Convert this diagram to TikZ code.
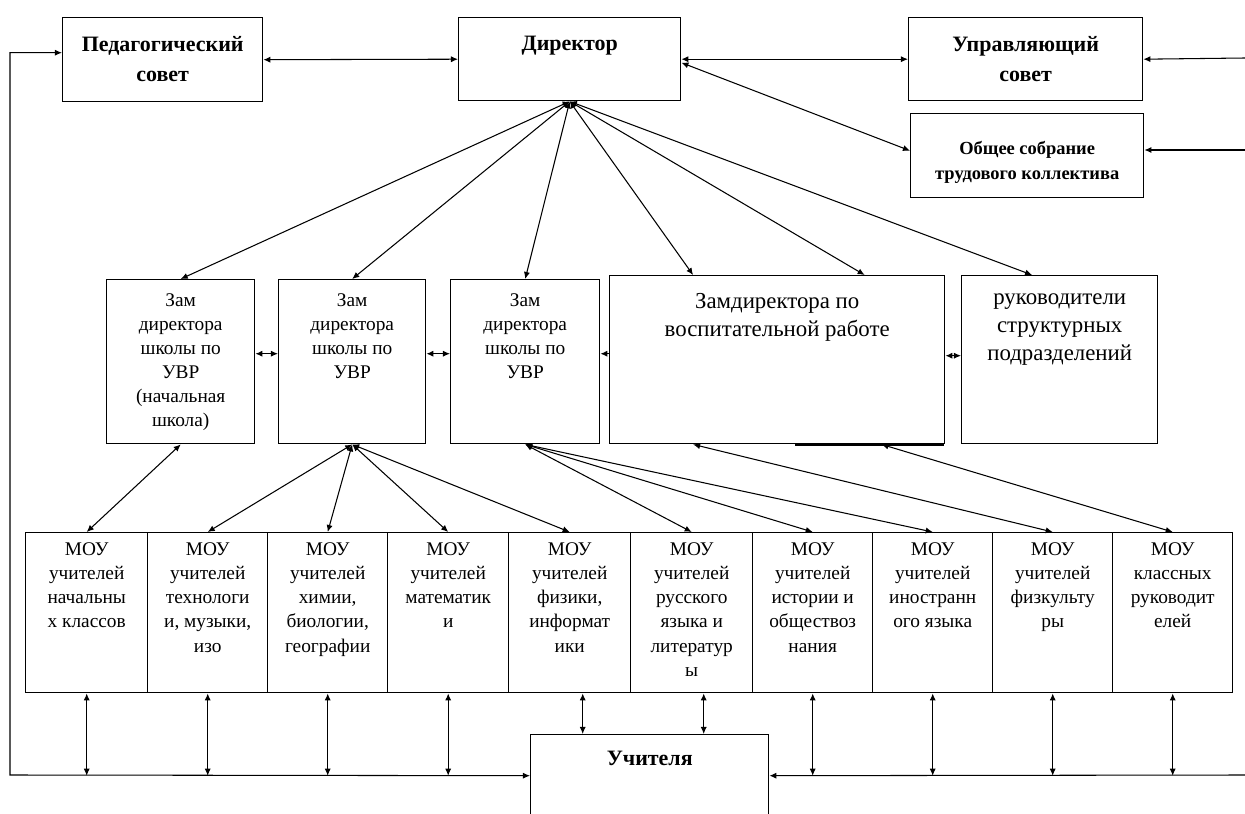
\documentclass[tikz,border=0pt]{standalone}
\usepackage{fontspec}
\setmainfont{Liberation Serif}
\usetikzlibrary{calc,arrows.meta}

\tikzset{
  box/.style 2 args={draw,line width=.8pt,anchor=north west,inner sep=0pt,
    minimum width=#1*0.02cm,minimum height=#2*0.02cm},
  headtxt/.style={anchor=north,inner sep=0pt,align=center,yshift=-19*0.02cm,
    font=\fontsize{12.5}{17}\selectfont\bfseries},
  smalltxt/.style={anchor=north,inner sep=0pt,align=center,yshift=-28*0.02cm,
    font=\fontsize{10.5}{14.2}\selectfont\bfseries},
  zamtxt/.style={anchor=north,inner sep=0pt,align=center,yshift=-14*0.02cm,
    font=\fontsize{11}{13.7}\selectfont},
  bigtxt/.style={anchor=north,inner sep=0pt,align=center,yshift=-18*0.02cm,
    font=\fontsize{13}{16}\selectfont},
  moutxt/.style={anchor=north,inner sep=0pt,align=center,yshift=-10*0.02cm,
    font=\fontsize{11}{13.8}\selectfont},
  link/.style={<->,line width=.6pt},
}

\begin{document}
\begin{tikzpicture}[x=0.02cm,y=-0.02cm,>={Latex[length=4pt,width=3.5pt]}]
  \useasboundingbox (0,0) rectangle (1245,814);

  % top level
  \node[box={200}{84},label={[headtxt]north:Педагогический\\совет}] (ped) at (62,17) {};
  \node[box={222}{83},label={[headtxt]north:Директор}] (dir) at (458,17) {};
  \node[box={234}{83},label={[headtxt]north:Управляющий\\совет}] (upr) at (908,17) {};
  \node[box={233}{84},label={[smalltxt]north:Общее собрание\\трудового коллектива}] (obs) at (910,113) {};

  % deputies
  \node[box={148}{164},label={[zamtxt]north:Зам\\директора\\школы по\\УВР\\(начальная\\школа)}] (zam1) at (106,279) {};
  \node[box={147}{164},label={[zamtxt]north:Зам\\директора\\школы по\\УВР}] (zam2) at (278,279) {};
  \node[box={149}{164},label={[zamtxt]north:Зам\\директора\\школы по\\УВР}] (zam3) at (450,279) {};
  \node[box={335}{168},label={[bigtxt]north:Замдиректора по\\воспитательной работе}] (vr) at (609,275) {};
  \node[box={196}{168},label={[bigtxt]north:руководители\\структурных\\подразделений}] (ruk) at (961,275) {};
  \draw[line width=.6pt] (795,445) -- (944,445);

  % methodical unions
  \node[box={122}{160},label={[moutxt]north:{МОУ\\учителей\\начальны\\х классов}}] (mou1) at (25,532) {};
  \node[box={120}{160},label={[moutxt]north:{МОУ\\учителей\\технологи\\и, музыки,\\изо}}] (mou2) at (147,532) {};
  \node[box={120}{160},label={[moutxt]north:{МОУ\\учителей\\химии,\\биологии,\\географии}}] (mou3) at (267,532) {};
  \node[box={121}{160},label={[moutxt]north:{МОУ\\учителей\\математик\\и}}] (mou4) at (387,532) {};
  \node[box={122}{160},label={[moutxt]north:{МОУ\\учителей\\физики,\\информат\\ики}}] (mou5) at (508,532) {};
  \node[box={122}{160},label={[moutxt]north:{МОУ\\учителей\\русского\\языка и\\литератур\\ы}}] (mou6) at (630,532) {};
  \node[box={120}{160},label={[moutxt]north:{МОУ\\учителей\\истории и\\обществоз\\нания}}] (mou7) at (752,532) {};
  \node[box={120}{160},label={[moutxt]north:{МОУ\\учителей\\иностранн\\ого языка}}] (mou8) at (872,532) {};
  \node[box={120}{160},label={[moutxt]north:{МОУ\\учителей\\физкульту\\ры}}] (mou9) at (992,532) {};
  \node[box={120}{160},label={[moutxt]north:{МОУ\\классных\\руководит\\елей}}] (mou10) at (1112,532) {};

  \node[box={238}{82},label={[headtxt,yshift=2*0.02cm]north:Учителя}] (uch) at (530,734) {};

  \coordinate (rtop) at (1245,58);
  \coordinate (rmid) at (1245,150);
  \coordinate (rbot) at (1245,775);
  \coordinate (lcorner) at (10,775);

  % top links
  \draw[link] (ped.east) -- (dir.west);
  \draw[link] (dir.east) -- (upr.west);
  \draw[link] ([yshift=-.07cm]dir.east) -- ([yshift=.1cm]obs.west);
  \draw[->,line width=.6pt] (rtop) -- (upr.east);
  \draw[->,line width=.6pt] (rmid) -- (rmid -| obs.east);

  % director to deputies
  \draw[link] (dir.south) -- (zam1.north);
  \draw[link] (dir.south) -- (zam2.north);
  \draw[link] (dir.south) -- (zam3.north);
  \draw[link] (dir.south) -- ($(vr.north west)!.25!(vr.north east)$);
  \draw[link] (dir.south) -- ($(vr.north west)!.76!(vr.north east)$);
  \draw[link] (dir.south) -- ($(ruk.north west)!.36!(ruk.north east)$);

  % between deputies
  \draw[link] ([yshift=.16cm]zam1.east) -- ([yshift=.16cm]zam1.east -| zam2.west);
  \draw[link] ([yshift=.16cm]zam2.east) -- ([yshift=.16cm]zam2.east -| zam3.west);
  \draw[<-,line width=.6pt] ([yshift=.16cm]zam3.east) -- ([yshift=.16cm]zam3.east -| vr.west);
  \draw[link] ([yshift=.08cm]vr.east) -- ([yshift=.08cm]vr.east -| ruk.west);

  % deputies to unions
  \draw[link] (zam1.south) -- (mou1.north);
  \draw[link] (zam2.south) -- (mou2.north);
  \draw[link] (zam2.south) -- (mou3.north);
  \draw[link] (zam2.south) -- (mou4.north);
  \draw[link] (zam2.south) -- (mou5.north);
  \draw[link] (zam3.south) -- (mou6.north);
  \draw[link] (zam3.south) -- (mou7.north);
  \draw[link] (zam3.south) -- (mou8.north);
  \draw[link] ($(vr.south west)!.25!(vr.south east)$) -- (mou9.north);
  \draw[link] ($(vr.south west)!.81!(vr.south east)$) -- (mou10.north);

  % unions to teachers
  \draw[link] (mou1.south) -- (mou1.south |- uch.west);
  \draw[link] (mou2.south) -- (mou2.south |- uch.west);
  \draw[link] (mou3.south) -- (mou3.south |- uch.west);
  \draw[link] (mou4.south) -- (mou4.south |- uch.west);
  \draw[link] ([xshift=.26cm]mou5.south) -- ([xshift=.26cm]mou5.south |- uch.north);
  \draw[link] ([xshift=.24cm]mou6.south) -- ([xshift=.24cm]mou6.south |- uch.north);
  \draw[link] (mou7.south) -- (mou7.south |- uch.east);
  \draw[link] (mou8.south) -- (mou8.south |- uch.east);
  \draw[link] (mou9.south) -- (mou9.south |- uch.east);
  \draw[link] (mou10.south) -- (mou10.south |- uch.east);

  % outer loops
  \draw[link] ([yshift=.14cm]ped.west) -| (lcorner) -- (uch.west);
  \draw[->,line width=.6pt] (rbot) -- (uch.east);
\end{tikzpicture}
\end{document}
